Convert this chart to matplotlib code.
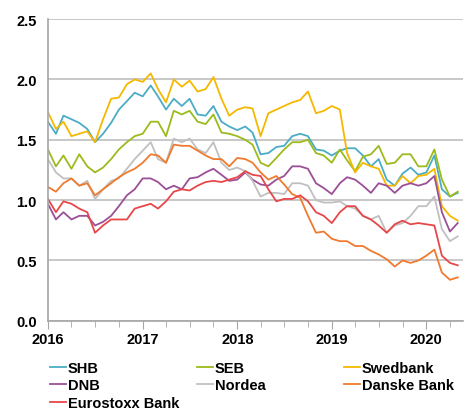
import numpy as np
import pandas as pd
import matplotlib
matplotlib.use("Agg")
import matplotlib.pyplot as plt
import matplotlib.dates as mdates

plt.rcParams['font.family'] = ['Liberation Sans', 'DejaVu Sans']
plt.rcParams['font.weight'] = 'bold'

# monthly readings, Jan 2016 .. May 2020
dates = pd.date_range("2016-01-01", periods=53, freq="MS")

shb = [1.65, 1.55, 1.70, 1.67, 1.64, 1.59, 1.48, 1.55, 1.64, 1.75, 1.82, 1.89, 1.86,
       1.95, 1.86, 1.75, 1.84, 1.78, 1.84, 1.71, 1.70, 1.78, 1.65, 1.61, 1.58, 1.61,
       1.56, 1.38, 1.39, 1.44, 1.45, 1.53, 1.55, 1.53, 1.42, 1.41, 1.37, 1.41, 1.43,
       1.43, 1.37, 1.28, 1.34, 1.17, 1.12, 1.22, 1.27, 1.21, 1.23, 1.37, 1.09, 1.03, 1.06]
seb = [1.42, 1.28, 1.37, 1.26, 1.38, 1.28, 1.23, 1.27, 1.34, 1.42, 1.48, 1.53, 1.55,
       1.65, 1.65, 1.53, 1.74, 1.71, 1.74, 1.65, 1.63, 1.71, 1.56, 1.55, 1.53, 1.50,
       1.46, 1.31, 1.28, 1.35, 1.42, 1.48, 1.48, 1.50, 1.39, 1.37, 1.31, 1.42, 1.33,
       1.24, 1.36, 1.38, 1.45, 1.30, 1.31, 1.38, 1.38, 1.28, 1.28, 1.42, 1.17, 1.03, 1.07]
swedbank = [1.73, 1.59, 1.65, 1.53, 1.55, 1.57, 1.48, 1.67, 1.84, 1.85, 1.96, 2.00, 1.98,
            2.05, 1.92, 1.81, 2.00, 1.94, 1.99, 1.90, 1.92, 2.02, 1.84, 1.70, 1.75, 1.77,
            1.76, 1.53, 1.72, 1.75, 1.78, 1.81, 1.83, 1.90, 1.72, 1.74, 1.78, 1.75, 1.39,
            1.23, 1.31, 1.28, 1.26, 1.12, 1.12, 1.20, 1.14, 1.20, 1.21, 1.26, 0.95, 0.87, 0.83]
dnb = [0.97, 0.84, 0.90, 0.84, 0.87, 0.87, 0.79, 0.82, 0.87, 0.95, 1.04, 1.09, 1.18,
       1.18, 1.15, 1.09, 1.12, 1.09, 1.18, 1.19, 1.23, 1.26, 1.21, 1.16, 1.17, 1.23,
       1.17, 1.13, 1.12, 1.17, 1.20, 1.28, 1.28, 1.26, 1.14, 1.10, 1.05, 1.14, 1.19,
       1.17, 1.12, 1.06, 1.14, 1.12, 1.06, 1.12, 1.14, 1.12, 1.14, 1.20, 0.90, 0.74, 0.81]
nordea = [1.34, 1.23, 1.18, 1.18, 1.12, 1.16, 1.01, 1.09, 1.16, 1.18, 1.26, 1.34, 1.41,
          1.48, 1.34, 1.31, 1.51, 1.48, 1.51, 1.42, 1.39, 1.48, 1.31, 1.25, 1.27, 1.24,
          1.16, 1.03, 1.06, 1.06, 1.05, 1.14, 1.14, 1.12, 1.00, 0.98, 0.98, 0.99, 0.95,
          0.93, 0.87, 0.84, 0.87, 0.73, 0.79, 0.81, 0.87, 0.95, 0.95, 1.03, 0.76, 0.66, 0.70]
danske = [1.11, 1.07, 1.14, 1.18, 1.12, 1.14, 1.04, 1.09, 1.14, 1.19, 1.23, 1.26, 1.31,
          1.38, 1.37, 1.31, 1.46, 1.45, 1.45, 1.41, 1.37, 1.34, 1.34, 1.28, 1.35, 1.34,
          1.31, 1.23, 1.17, 1.20, 1.13, 1.05, 1.02, 0.87, 0.73, 0.74, 0.68, 0.66, 0.66,
          0.62, 0.62, 0.58, 0.55, 0.51, 0.45, 0.50, 0.48, 0.50, 0.54, 0.59, 0.40, 0.34, 0.36]
eurostoxx = [1.01, 0.90, 0.99, 0.97, 0.93, 0.90, 0.73, 0.79, 0.84, 0.84, 0.84, 0.93, 0.95,
             0.97, 0.93, 0.99, 1.07, 1.09, 1.08, 1.12, 1.15, 1.16, 1.15, 1.17, 1.19, 1.24,
             1.21, 1.20, 1.09, 0.99, 1.01, 1.01, 1.04, 0.99, 0.90, 0.87, 0.81, 0.90, 0.95,
             0.95, 0.87, 0.84, 0.79, 0.73, 0.80, 0.83, 0.80, 0.81, 0.80, 0.79, 0.54, 0.48, 0.46]

names = ["SHB", "SEB", "Swedbank", "DNB", "Nordea", "Danske Bank", "Eurostoxx Bank"]
colors = ["#4bacc6", "#9bbb1c", "#f5b800", "#9b4f96", "#c0c0c0", "#f07a2e", "#e8474a"]
series = [shb, seb, swedbank, dnb, nordea, danske, eurostoxx]

fig = plt.figure(figsize=(4.65, 4.10), dpi=100)
ax = fig.add_axes([0.103, 0.215, 0.893, 0.736])

lines = {}
for name, col, vals in zip(names, colors, series):
    lines[name], = ax.plot(dates, vals, color=col, lw=1.3, label=name)

ax.set_ylim(0, 2.5)
ax.set_yticks(np.arange(0, 2.51, 0.5))
ax.yaxis.set_major_formatter(plt.FormatStrFormatter('%.1f'))
ax.set_xlim(pd.Timestamp("2016-01-01"), pd.Timestamp("2020-05-22"))
ax.xaxis.set_major_locator(mdates.YearLocator())
ax.xaxis.set_major_formatter(mdates.DateFormatter('%Y'))
ax.xaxis.set_minor_locator(mdates.MonthLocator(bymonth=[4, 7, 10]))

ax.grid(axis='y', color='#bfbfbf', lw=1.2)
ax.set_axisbelow(True)
for s in ['top', 'right']:
    ax.spines[s].set_visible(False)
for s in ['left', 'bottom']:
    ax.spines[s].set_color('#a6a6a6')
    ax.spines[s].set_linewidth(1.2)
ax.tick_params(axis='y', length=0, labelsize=10.5, pad=8)
ax.tick_params(axis='x', which='major', length=6, color='#a6a6a6', labelsize=10.5, pad=2)
ax.tick_params(axis='x', which='minor', length=4, color='#a6a6a6')
for lab in ax.get_xticklabels() + ax.get_yticklabels():
    lab.set_fontweight('bold')

# three legend columns with fixed spacing
cols = [["SHB", "DNB", "Eurostoxx Bank"], ["SEB", "Nordea"], ["Swedbank", "Danske Bank"]]
xpos = [0.108, 0.424, 0.740]
for names_col, xp in zip(cols, xpos):
    leg = fig.legend([lines[n] for n in names_col], names_col, loc='upper left',
                     bbox_to_anchor=(xp, 0.118), frameon=False, handlelength=1.1,
                     handletextpad=0.1, borderaxespad=0, borderpad=0,
                     labelspacing=0.25, prop={'size': 10.5, 'weight': 'bold'})

fig.savefig("out.png", dpi=100)
